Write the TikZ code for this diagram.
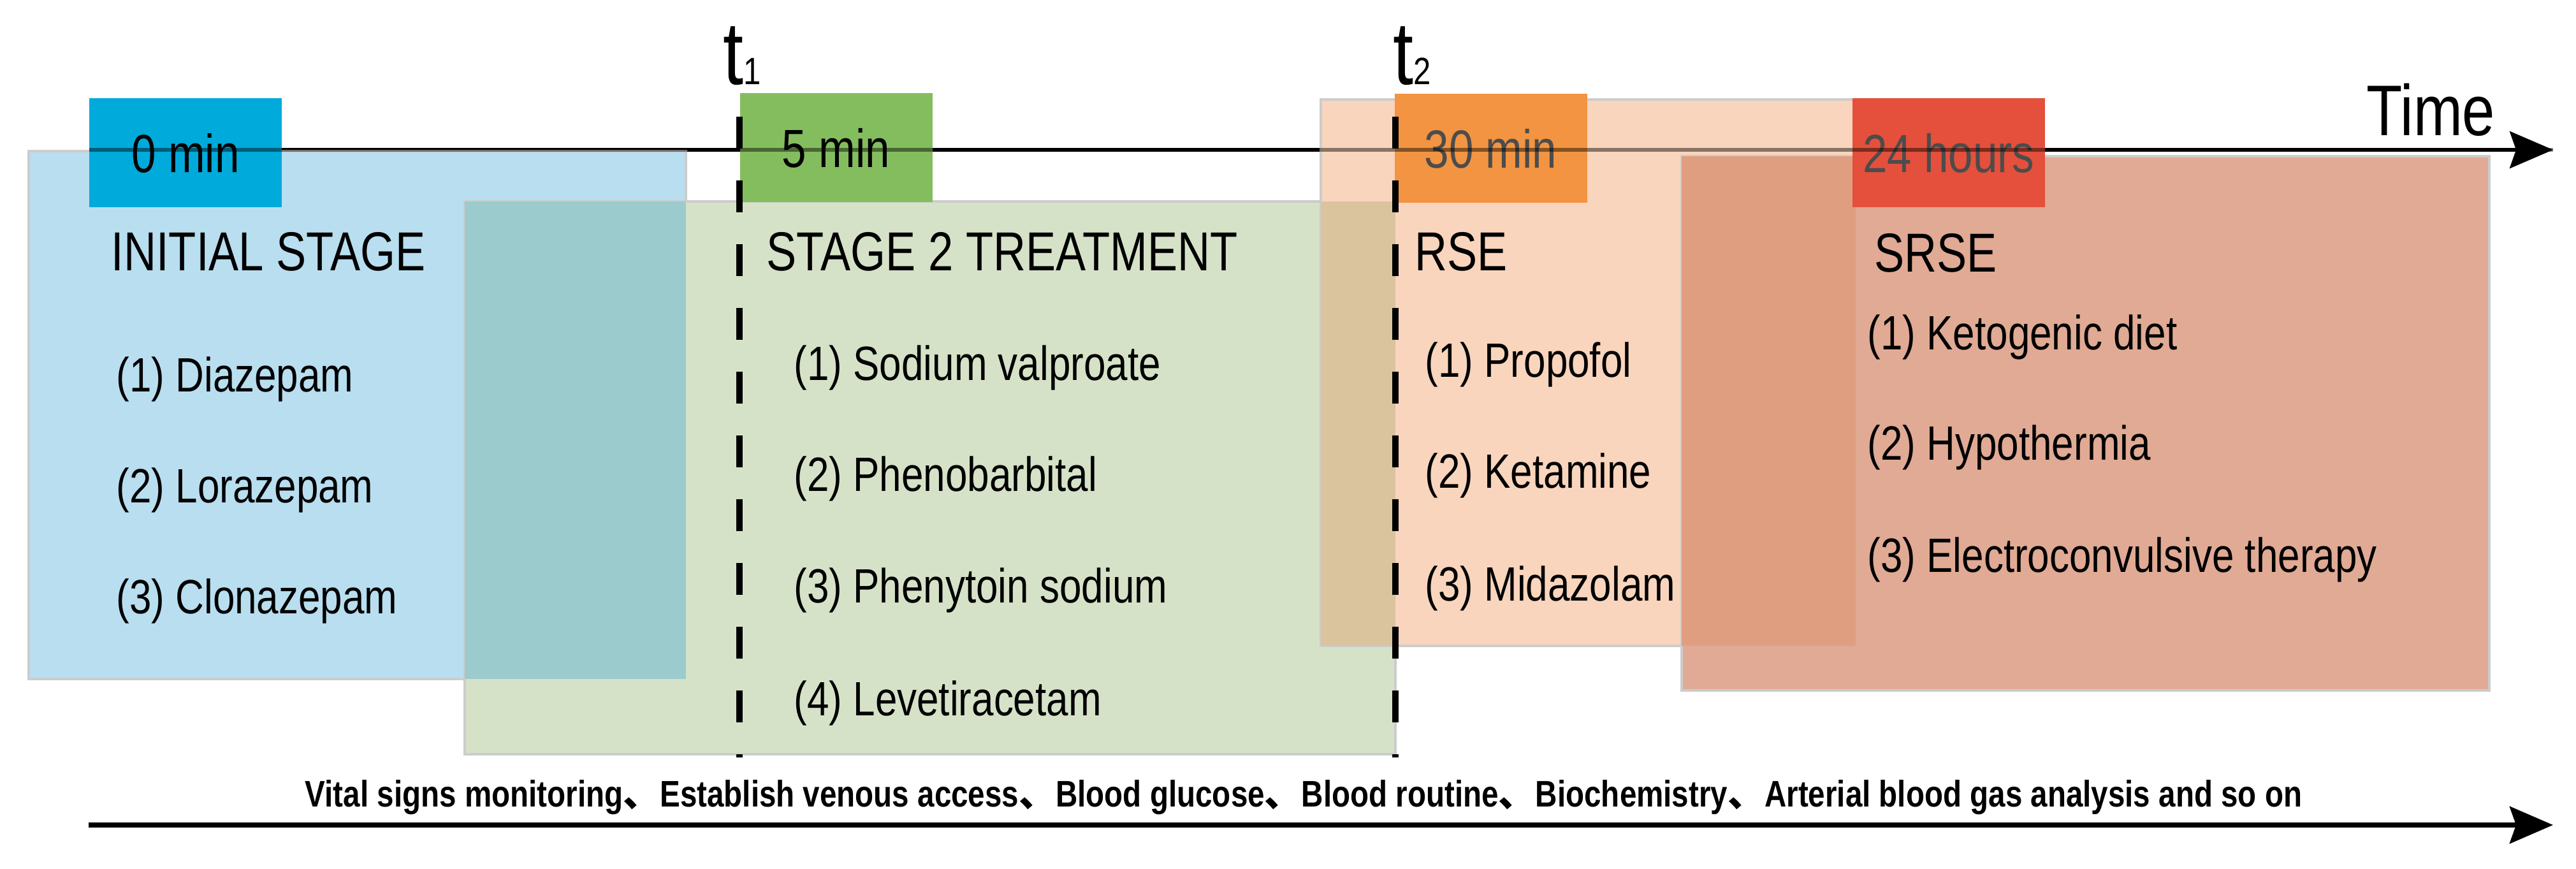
\documentclass[tikz,border=0pt]{standalone}
\usepackage{fontspec}
\setmainfont{Liberation Sans}[FakeStretch=0.82]
\newfontfamily\cjk{Noto Sans CJK SC}
\usetikzlibrary{arrows.meta}
\definecolor{ciano}{RGB}{0,170,219}
\definecolor{verde}{RGB}{132,189,94}
\definecolor{arancio}{RGB}{242,148,65}
\definecolor{rosso}{RGB}{228,80,60}
\definecolor{celeste}{RGB}{184,222,240}
\definecolor{verdino}{RGB}{214,226,200}
\definecolor{pesca}{RGB}{248,213,188}
\definecolor{salmone}{RGB}{224,170,148}
\definecolor{ottanio}{RGB}{155,203,204}
\definecolor{sabbia}{RGB}{217,196,158}
\definecolor{terra}{RGB}{223,158,128}
\newcommand{\virgola}{{\cjk 、}}
\tikzset{
  tempo/.style={minimum width=3.02cm,minimum height=1.71cm,inner sep=0pt,font=\fontsize{24}{24}\selectfont},
  titolo/.style={anchor=base west,inner sep=0pt,font=\fontsize{24.5}{24.5}\selectfont},
  voce/.style={anchor=base west,inner sep=0pt,font=\fontsize{21.5}{21.5}\selectfont},
  fase/.style={draw=black!20,line width=1pt},
  soglia/.style={line width=2.8pt,dash pattern=on 0.5cm off 0.5cm,dash phase=0.5cm},
  freccia/.style={-{Stealth[length=0.68cm,width=0.58cm,inset=0.1cm]}}
}
\begin{document}
\begin{tikzpicture}
        \useasboundingbox(0,0)rectangle(40.41,13.62);
        %asse dei tempi
        \coordinate(inizio) at (1.40,11.27);
        \coordinate(fine) at (40.05,11.27);
        \draw[freccia,line width=1.6pt](inizio)--(fine);
        \node(asse) at (37.12,11.49)[anchor=base west,inner sep=0pt,font=\fontsize{32}{32}\selectfont]{Time};

        %riquadri delle fasi
        \draw[fase,fill=celeste](0.45,2.97)rectangle(10.76,11.25);
        \draw[fase,fill=verdino](7.29,1.79)rectangle(21.89,10.46);
        \draw[fase,fill=pesca](20.72,3.49)rectangle(29.11,12.06);
        \draw[fase,fill=salmone](26.38,2.79)rectangle(39.05,11.17);
        %sovrapposizioni
        \fill[ottanio](7.29,2.97)rectangle(10.76,10.46);
        \fill[sabbia](20.72,3.49)rectangle(21.89,10.46);
        \fill[terra](26.38,3.49)rectangle(29.11,11.17);

        %caselle dei tempi
        \node(zero) at (2.91,11.22)[tempo,fill=ciano]{0 min};
        \node(cinque) at (13.115,11.30)[tempo,fill=verde]{5 min};
        \node(trenta) at (23.385,11.29)[tempo,fill=arancio,text=black!70]{30 min};
        \node(giorno) at (30.57,11.22)[tempo,fill=rosso,text=black!70]{24 hours};
        %la linea si vede sotto le caselle
        \draw[line width=1.6pt,draw opacity=.45](inizio)--(fine);

        %soglie t1 e t2
        \node(tuno) at (11.34,12.29)[anchor=base west,inner sep=0pt]{\fontsize{40}{40}\selectfont t\fontsize{17}{17}\selectfont 1};
        \node(tdue) at (21.85,12.29)[anchor=base west,inner sep=0pt]{\fontsize{40}{40}\selectfont t\fontsize{17}{17}\selectfont 2};
        \coordinate(a1) at (11.60,12.29);
        \coordinate(b1) at (11.60,1.74);
        \coordinate(a2) at (21.89,12.29);
        \coordinate(b2) at (21.89,1.74);
        \draw[soglia](a1)--(b1);
        \draw[soglia](a2)--(b2);

        %fase iniziale
        \node(iniz) at (1.74,9.37)[titolo]{INITIAL STAGE};
        \node(diaz) at (1.82,7.47)[voce]{(1) Diazepam};
        \node(lora) at (1.82,5.73)[voce]{(2) Lorazepam};
        \node(clon) at (1.82,3.99)[voce]{(3) Clonazepam};

        %seconda fase
        \node(sec) at (12.02,9.37)[titolo]{STAGE 2 TREATMENT};
        \node(valp) at (12.45,7.65)[voce]{(1) Sodium valproate};
        \node(fenb) at (12.45,5.91)[voce]{(2) Phenobarbital};
        \node(feni) at (12.45,4.16)[voce]{(3) Phenytoin sodium};
        \node(leve) at (12.45,2.40)[voce]{(4) Levetiracetam};

        %RSE
        \node(rse) at (22.19,9.37)[titolo]{RSE};
        \node(prop) at (22.35,7.70)[voce]{(1) Propofol};
        \node(keta) at (22.35,5.96)[voce]{(2) Ketamine};
        \node(mida) at (22.35,4.20)[voce]{(3) Midazolam};

        %SRSE
        \node(srse) at (29.40,9.35)[titolo]{SRSE};
        \node(chet) at (29.29,8.13)[voce]{(1) Ketogenic diet};
        \node(ipot) at (29.29,6.40)[voce]{(2) Hypothermia};
        \node(elet) at (29.29,4.65)[voce]{(3) Electroconvulsive therapy};

        %freccia in basso
        \coordinate(basso) at (1.39,0.68);
        \coordinate(bassofine) at (40.05,0.68);
        \draw[freccia,line width=2.2pt](basso)--(bassofine);
        \node(esami) at (20.45,0.97)[anchor=base,inner sep=0pt,font=\bfseries\fontsize{16.5}{16.5}\selectfont]{Vital signs monitoring\virgola Establish venous access\virgola Blood glucose\virgola Blood routine\virgola Biochemistry\virgola Arterial blood gas analysis and so on};
    \end{tikzpicture}
\end{document}
